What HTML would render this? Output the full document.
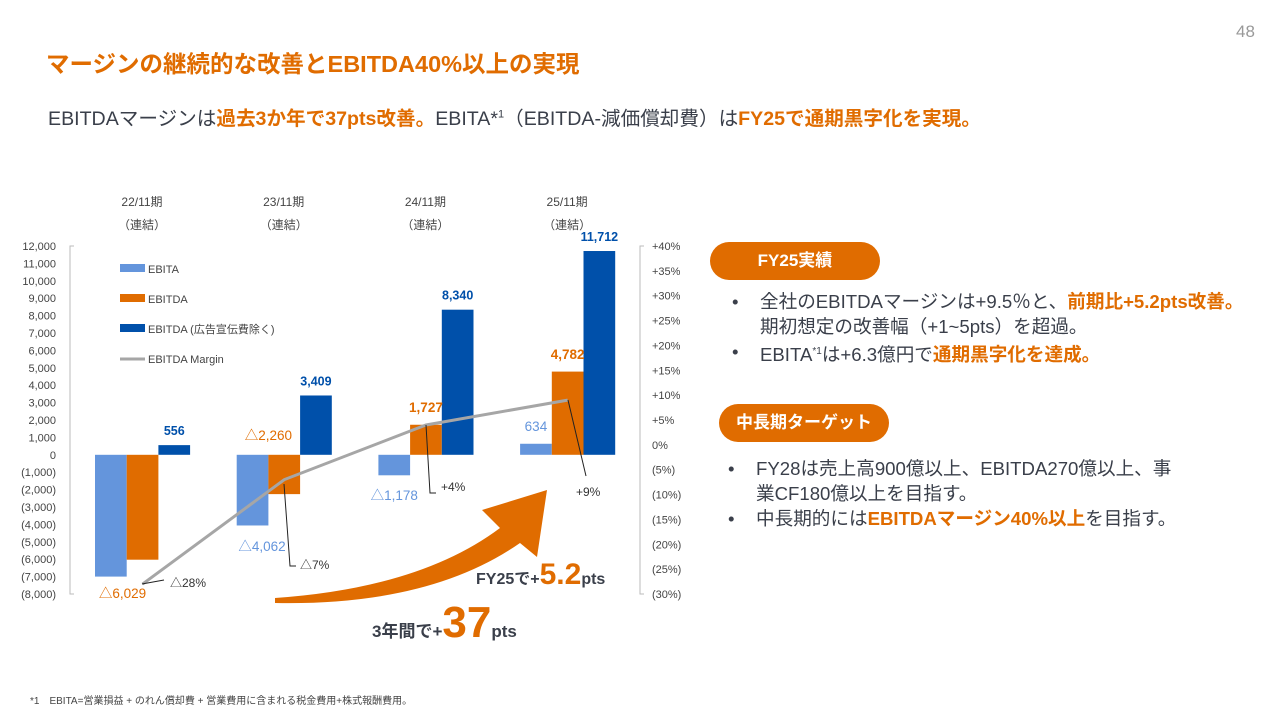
<!DOCTYPE html>
<html><head><meta charset="utf-8">
<style>
body{margin:0;width:1280px;height:720px;background:#fff;font-family:"Liberation Sans","Noto Sans CJK JP",sans-serif;position:relative;overflow:hidden;color:#3a3f4a}
.abs{position:absolute;white-space:nowrap}
.o{color:#e06c00;font-weight:bold}
.pill{position:absolute;background:#e06c00;color:#fff;font-weight:bold;font-size:17px;border-radius:20px;text-align:center;line-height:38px;height:38px}
.bul{position:absolute;font-size:18.6px;line-height:25px;color:#3a3f4a}
.bul .d{position:absolute;left:-28px}
</style></head><body>
<div class="abs" style="left:1236px;top:22px;font-size:17px;color:#999">48</div>
<div class="abs" style="left:46px;top:45px;font-size:23.5px;font-weight:bold;color:#e06c00">マージンの継続的な改善とEBITDA40%以上の実現</div>
<div class="abs" style="left:48px;top:102px;font-size:19.6px;color:#3a3f4a">EBITDAマージンは<span class="o">過去3か年で37pts改善。</span>EBITA*<sup style="font-size:11px">1</sup>（EBITDA-減価償却費）は<span class="o">FY25で通期黒字化を実現。</span></div>

<svg style="position:absolute;left:0;top:0" width="700" height="660" id="chart"></svg>

<div class="pill" style="left:710px;top:242px;width:170px">FY25実績</div>
<div class="bul" style="left:760px;top:289px">
<div><span class="d">•</span>全社のEBITDAマージンは+9.5％と、<span class="o">前期比+5.2pts改善。</span></div>
<div>期初想定の改善幅（+1~5pts）を超過。</div>
<div><span class="d">•</span>EBITA<sup style="font-size:10px">*1</sup>は+6.3億円で<span class="o">通期黒字化を達成。</span></div>
</div>
<div class="pill" style="left:719px;top:404px;width:170px">中長期ターゲット</div>
<div class="bul" style="left:756px;top:456px">
<div><span class="d">•</span>FY28は売上高900億以上、EBITDA270億以上、事</div>
<div>業CF180億以上を目指す。</div>
<div><span class="d">•</span>中長期的には<span class="o">EBITDAマージン40%以上</span>を目指す。</div>
</div>
<div class="abs" style="left:30px;top:692px;font-size:10px;color:#444">*1　EBITA=営業損益 + のれん償却費 + 営業費用に含まれる税金費用+株式報酬費用。</div>

<script>
const periods=["22/11期","23/11期","24/11期","25/11期"];
const ebita=[-7000,-4062,-1178,634];
const ebitda=[-6029,-2260,1727,4782];
const ebitdaEx=[556,3409,8340,11712];
const margin=[-28,-7,4,9];
const leftTicks=[12000,11000,10000,9000,8000,7000,6000,5000,4000,3000,2000,1000,0,-1000,-2000,-3000,-4000,-5000,-6000,-7000,-8000];
const rightTicks=[40,35,30,25,20,15,10,5,0,-5,-10,-15,-20,-25,-30];
const ebitaLabels=["","△4,062","△1,178","634"];
const ebitdaLabels=["△6,029","△2,260","1,727","4,782"];
const exLabels=["556","3,409","8,340","11,712"];
const marginLabels=["△28%","△7%","+4%","+9%"];

const svg=document.getElementById('chart');
const NS="http://www.w3.org/2000/svg";
const yL=v=>246+(12000-v)*348/20000;
const yR=v=>246+(40-v)*348/70;
const gx=i=>95+i*141.7;
const bw=31.7;
function el(tag,attrs,txt){const e=document.createElementNS(NS,tag);for(const k in attrs)e.setAttribute(k,attrs[k]);if(txt!==undefined)e.textContent=txt;svg.appendChild(e);return e;}
const F='"Liberation Sans","Noto Sans CJK JP",sans-serif';
let a=el('path',{d:'M74 246H70V594H74',stroke:'#bbb',fill:'none'});


a=el('path',{d:'M644 246H640V594H644',stroke:'#bbb',fill:'none'});


leftTicks.forEach(v=>{const t=el('text',{x:56,y:yL(v)+4,'text-anchor':'end','font-size':11,fill:'#444','font-family':F},v<0?'('+(-v).toLocaleString('en-US')+')':v.toLocaleString('en-US'));

});
rightTicks.forEach(v=>{const t=el('text',{x:652,y:yR(v)+4,'font-size':11,fill:'#444','font-family':F},v>0?'+'+v+'%':v<0?'('+(-v)+'%)':'0%');

});
periods.forEach((p,i)=>{const cx=gx(i)+47;
let t=el('text',{x:cx,y:206,'text-anchor':'middle','font-size':12,fill:'#444','font-family':F},p);


t=el('text',{x:cx,y:229,'text-anchor':'middle','font-size':12,fill:'#444','font-family':F},'（連結）');

});
function bar(i,k,v,c,name){const x=gx(i)+k*bw;const y0=yL(0),y1=yL(v);
const r=el('rect',{x:x,y:Math.min(y0,y1),width:bw,height:Math.abs(y1-y0),fill:c});

}
periods.forEach((p,i)=>{bar(i,0,ebita[i],'#6495dc','bar-ebita');bar(i,1,ebitda[i],'#e06c00','bar-ebitda');bar(i,2,ebitdaEx[i],'#0050aa','bar-ebitda-ex-ad');});
const pts=margin.map((m,i)=>[gx(i)+1.5*bw,yR(m)]);
let ln=el('polyline',{points:pts.map(p=>p.join(',')).join(' '),fill:'none',stroke:'#a6a6a6','stroke-width':3});


const lab=(x,y,t,c,anc,name,sz,bold)=>{const e=el('text',{x:x,y:y,'text-anchor':anc||'middle','font-size':sz||13,fill:c,'font-family':F,'font-weight':bold?'bold':'normal'},t);

};
periods.forEach((p,i)=>{const x=gx(i);
lab(x+2.5*bw,yL(Math.max(ebitdaEx[i],0))-10,exLabels[i],'#0050aa','middle','label-ebitda-ex-ad',12.5,true);
});
lab(gx(0)+1.5*bw-20,598,ebitdaLabels[0],'#e06c00','middle','label-ebitda',13.5);
lab(gx(1)+1*bw,440,ebitdaLabels[1],'#e06c00','middle','label-ebitda',13.5);
lab(gx(2)+1.5*bw,412,ebitdaLabels[2],'#e06c00','middle','label-ebitda',13.5,true);
lab(gx(3)+1.5*bw,359,ebitdaLabels[3],'#e06c00','middle','label-ebitda',13.5,true);
lab(gx(1)+0.8*bw,551,ebitaLabels[1],'#6495dc','middle','label-ebita',13.5);
lab(gx(2)+0.5*bw,500,ebitaLabels[2],'#6495dc','middle','label-ebita',13.5);
lab(gx(3)+0.5*bw,431,ebitaLabels[3],'#6495dc','middle','label-ebita',13.5);
const co=[[pts[0],'M142 584 L164 580',170,587],[pts[1],'M284 484 L290 566 L296 566',300,569],[pts[2],'M426 425 L430 493 L436 493',441,491],[pts[3],'M568 400 L586 476',576,496]];
co.forEach((c,i)=>{let p=el('path',{d:c[1],stroke:'#222',fill:'none','stroke-width':1});


lab(c[2],c[3],marginLabels[i],'#333','start','label-margin',12);});
const leg=[['#6495dc','EBITA',269],['#e06c00','EBITDA',299],['#0050aa','EBITDA (広告宣伝費除く)',329]];
leg.forEach(l=>{let r=el('rect',{x:120,y:l[2]-5,width:25,height:8,fill:l[0]});


lab(148,l[2]+4,l[1],'#444','start','legend-entry',11);});
let lg=el('line',{x1:120,y1:359,x2:145,y2:359,stroke:'#a6a6a6','stroke-width':3});


lab(148,363,'EBITDA Margin','#444','start','legend-entry',11);
let ar=el('path',{d:'M275 598 Q420 588 500 528 L482 510 L547 490 L537 557 L520 543 Q430 606 275 603 Z',fill:'#e06c00'});


let t1=el('text',{x:476,y:584,'font-size':16,'font-weight':'bold',fill:'#3a3f4a','font-family':F});


t1.innerHTML='FY25で+<tspan font-size="30" fill="#e06c00">5.2</tspan>pts';
let t2=el('text',{x:372,y:637,'font-size':17,'font-weight':'bold',fill:'#3a3f4a','font-family':F});


t2.innerHTML='3年間で+<tspan font-size="44" fill="#e06c00">37</tspan>pts';
</script>
</body></html>
